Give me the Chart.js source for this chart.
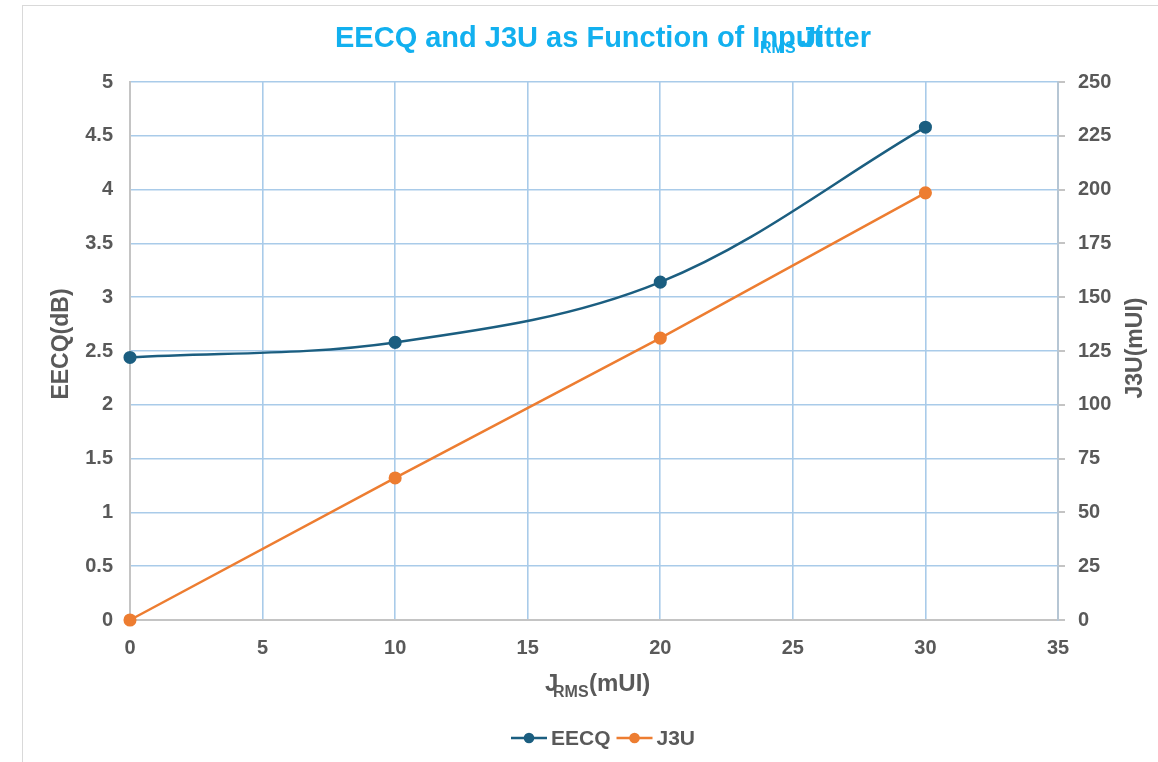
<!DOCTYPE html>
<html>
<head>
<meta charset="utf-8">
<title>EECQ and J3U as Function of Input Jitter</title>
<script src="https://cdn.jsdelivr.net/npm/chart.js@4.4.1/dist/chart.umd.min.js"></script>
<style>
  html, body { margin: 0; padding: 0; background: #fff; overflow: hidden; }
  .frame { position: absolute; left: 22px; top: 5px; width: 1300px; height: 900px; border: 1.5px solid #d9d9d9; }
  #chart { position: absolute; left: 0; top: 0; }
</style>
</head>
<body>
<div class="frame"></div>
<canvas id="chart" width="1158" height="762"></canvas>
<script>
// values
const jitterValues = [0, 10, 20, 30];
const eecqValues = [2.44, 2.58, 3.14, 4.58];
const j3uValues = [0, 66, 131, 198.5];
const seriesNames = ["EECQ", "J3U"];

const xRange = [0, 35, 5];
const leftRange = [0, 5, 0.5];
const rightRange = [0, 250, 25];

const font = "'Liberation Sans', Arial, sans-serif";
const textGray = "#595959";
const titleBlue = "#12b0ef";
const gridBlue = "#a9cbe9";
const axisGray = "#c4c4c4";
const eecqColor = "#1b5e80";
const j3uColor = "#ed7d31";

function toPoints(values) {
  return jitterValues.map((x, i) => ({ x: x, y: values[i] }));
}

const textPlugin = {
  id: "chartText",
  afterDraw(chart) {
    const ctx = chart.ctx;
    ctx.save();

    // title (the subscript run overlaps in the original)
    ctx.fillStyle = titleBlue;
    ctx.textBaseline = "alphabetic";
    ctx.font = "bold 29px " + font;
    ctx.textAlign = "left";
    ctx.fillText("EECQ and J3U as Function of Input", 335, 47);
    ctx.textAlign = "right";
    ctx.fillText("Jitter", 871, 47);
    ctx.textAlign = "left";
    ctx.font = "bold 16px " + font;
    ctx.fillText("RMS", 760, 53);

    // axis titles
    ctx.fillStyle = textGray;
    ctx.font = "bold 24px " + font;
    ctx.textAlign = "left";
    ctx.fillText("J", 545, 691);
    ctx.fillText("(mUI)", 589, 691);
    ctx.font = "bold 16px " + font;
    ctx.fillText("RMS", 553, 697);

    ctx.font = "bold 23px " + font;
    ctx.textAlign = "center";
    ctx.textBaseline = "middle";
    ctx.save();
    ctx.translate(62, 344);
    ctx.rotate(-Math.PI / 2);
    ctx.fillText("EECQ(dB)", 0, 0);
    ctx.restore();
    ctx.save();
    ctx.translate(1136, 348);
    ctx.rotate(-Math.PI / 2);
    ctx.fillText("J3U(mUI)", 0, 0);
    ctx.restore();

    // legend
    const legendY = 738;
    let x = 511;
    ctx.font = "bold 21px " + font;
    ctx.textAlign = "left";
    chart.data.datasets.forEach((ds) => {
      ctx.strokeStyle = ds.borderColor;
      ctx.lineWidth = 2.5;
      ctx.beginPath();
      ctx.moveTo(x, legendY);
      ctx.lineTo(x + 36, legendY);
      ctx.stroke();
      ctx.fillStyle = ds.borderColor;
      ctx.beginPath();
      ctx.arc(x + 18, legendY, 5.3, 0, Math.PI * 2);
      ctx.fill();
      ctx.fillStyle = textGray;
      ctx.fillText(ds.label, x + 40, legendY + 1);
      x += 40 + ctx.measureText(ds.label).width + 6;
    });

    ctx.restore();
  }
};

new Chart(document.getElementById("chart"), {
  type: "line",
  data: {
    datasets: [
      {
        label: seriesNames[0],
        data: toPoints(eecqValues),
        yAxisID: "y",
        borderColor: eecqColor,
        backgroundColor: eecqColor,
        borderWidth: 2.5,
        pointRadius: 5.3,
        pointHoverRadius: 5.3,
        tension: 0.35,
        clip: false
      },
      {
        label: seriesNames[1],
        data: toPoints(j3uValues),
        yAxisID: "y2",
        borderColor: j3uColor,
        backgroundColor: j3uColor,
        borderWidth: 2.5,
        pointRadius: 5.3,
        pointHoverRadius: 5.3,
        tension: 0,
        clip: false
      }
    ]
  },
  options: {
    responsive: false,
    animation: false,
    devicePixelRatio: 1,
    layout: { padding: { top: 82, bottom: 80, left: 0, right: 0 } },
    plugins: {
      legend: { display: false },
      title: { display: false },
      tooltip: { enabled: false }
    },
    scales: {
      x: {
        type: "linear",
        min: xRange[0],
        max: xRange[1],
        afterFit(scale) { scale.height = 62; },
        ticks: {
          stepSize: xRange[2],
          padding: 16,
          color: textGray,
          font: { family: font, size: 20, weight: "bold" }
        },
        grid: { color: gridBlue, lineWidth: 1.6, drawTicks: false },
        border: { color: axisGray, width: 2 }
      },
      y: {
        position: "left",
        min: leftRange[0],
        max: leftRange[1],
        afterFit(scale) { scale.width = 130; },
        ticks: {
          stepSize: leftRange[2],
          padding: 17,
          color: textGray,
          font: { family: font, size: 20, weight: "bold" },
          callback: (value) => String(Number(value.toFixed(2)))
        },
        grid: { color: gridBlue, lineWidth: 1.6, drawTicks: false },
        border: { color: axisGray, width: 2 }
      },
      y2: {
        position: "right",
        min: rightRange[0],
        max: rightRange[1],
        afterFit(scale) { scale.width = 100; },
        ticks: {
          stepSize: rightRange[2],
          padding: 13,
          color: textGray,
          font: { family: font, size: 20, weight: "bold" }
        },
        grid: { drawOnChartArea: false, drawTicks: true, tickLength: 7, color: axisGray, lineWidth: 2 },
        border: { color: "#b6c6d4", width: 2 }
      }
    }
  },
  plugins: [textPlugin]
});
</script>
</body>
</html>
